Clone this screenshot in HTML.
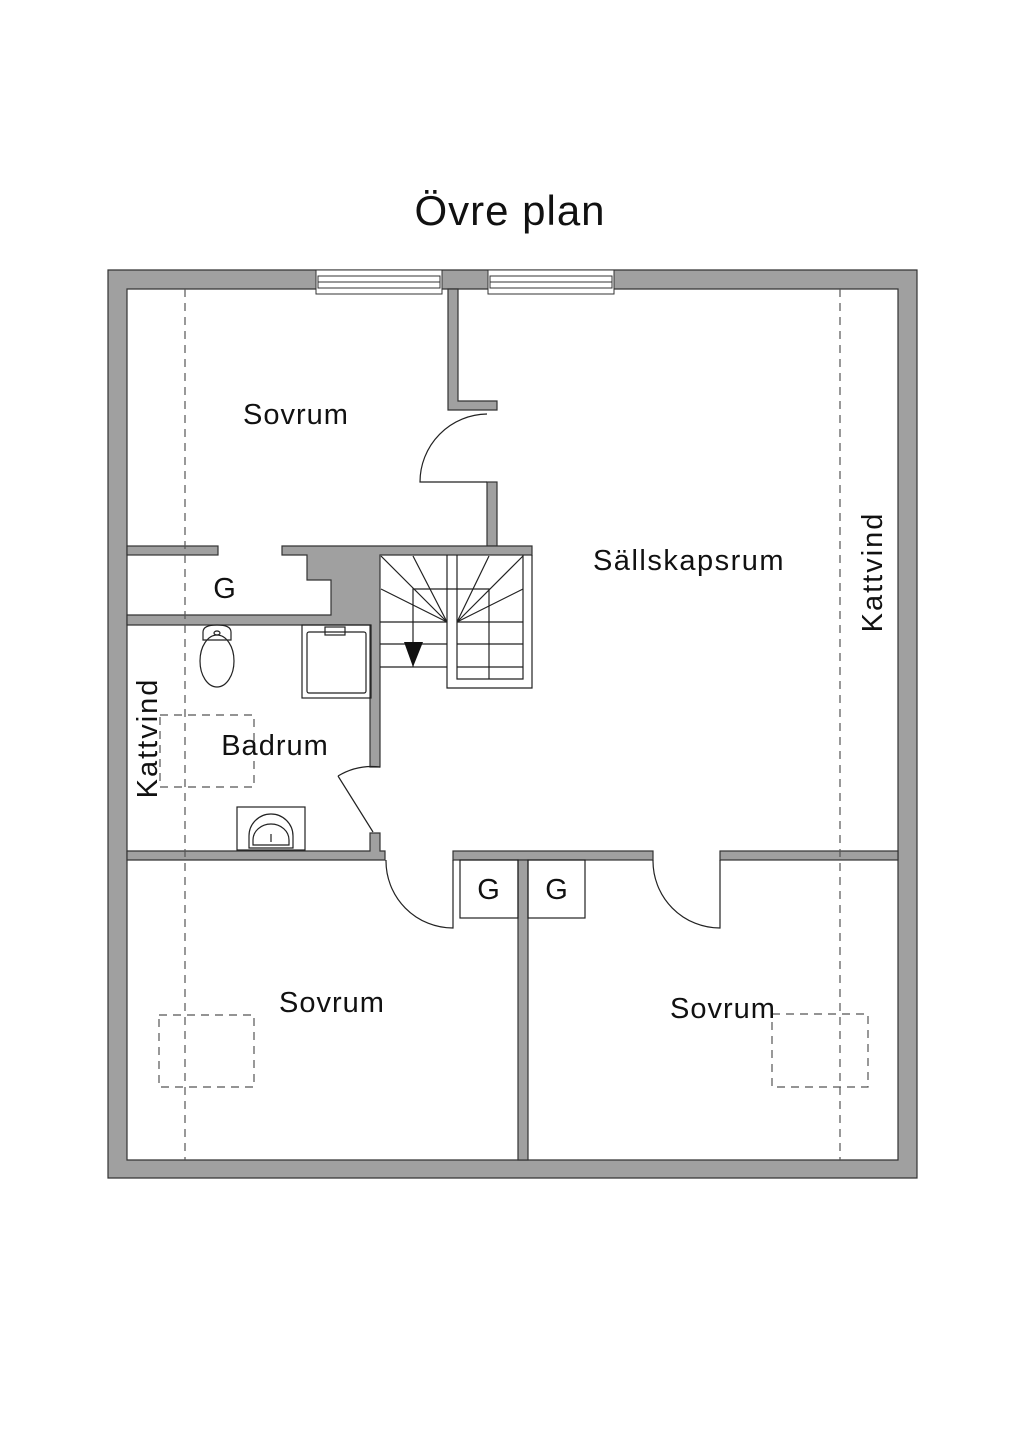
<!DOCTYPE html>
<html><head><meta charset="utf-8"><style>
html,body{margin:0;padding:0;background:#fff;}
svg{display:block;}
text{font-family:"Liberation Sans",sans-serif;fill:#111;}
</style></head><body>
<svg width="1024" height="1448" viewBox="0 0 1024 1448" xmlns="http://www.w3.org/2000/svg">
<rect width="1024" height="1448" fill="#fff"/>
<text x="510" y="225" font-size="42" letter-spacing="1" text-anchor="middle">Övre plan</text>
<g fill="#a0a0a0" stroke="#333" stroke-width="1.2">
<path fill-rule="evenodd" d="M108 270 H917 V1178 H108 Z M127 289 V1160 H898 V289 Z"/>
<path d="M448 289 V410 H497 V401 H458 V289 Z"/>
<rect x="487" y="482" width="10" height="64"/>
<rect x="127" y="546" width="91" height="9"/>
<path d="M282 546 H532 V555 H380 V767 H370 V625 H127 V615 H331 V580 H307 V555 H282 Z"/>
<path d="M370 833 H380 V851 H385 V860 H127 V851 H370 Z"/>
<rect x="453" y="851" width="200" height="9"/>
<rect x="720" y="851" width="178" height="9"/>
<rect x="518" y="860" width="10" height="300"/>
</g>
<g fill="#fff" stroke="#333" stroke-width="1">
<rect x="316" y="270" width="126" height="24"/>
<rect x="318" y="276" width="122" height="12"/>
<line x1="318" y1="282" x2="440" y2="282"/>
<rect x="488" y="270" width="126" height="24"/>
<rect x="490" y="276" width="122" height="12"/>
<line x1="490" y1="282" x2="612" y2="282"/>
</g>
<g fill="none" stroke="#222" stroke-width="1.2">
<path d="M487 414 A68 68 0 0 0 420 482 H487"/>
<path d="M338 776 L373 832 M338 776 A66 66 0 0 1 380 767"/>
<path d="M386 860 A67 67 0 0 0 453 928 V860"/>
<path d="M653 860 A67 67 0 0 0 720 928 V860"/>
<rect x="460" y="860" width="58" height="58"/>
<rect x="528" y="860" width="57" height="58"/>
<path d="M447 555 V688 H532 V555"/>
<path d="M457 555 V679 H523 V555"/>
<path d="M413 667 V589 H489 V679"/>
<path d="M380 622 H447 M380 644 H447 M380 667 H447 M457 622 H523 M457 644 H523 M457 667 H523"/>
<path d="M447 622 L381 556 M447 622 L413 556 M447 622 L381 589 M457 622 L489 556 M457 622 L523 556 M457 622 L523 589"/>
<rect x="302" y="625" width="69" height="73"/>
<rect x="307" y="632" width="59" height="61" rx="2"/>
<rect x="325" y="627" width="20" height="8"/>
<path d="M203 640 V632 Q203 625 217 625 Q231 625 231 632 V640 Z"/>
<ellipse cx="217" cy="661" rx="17" ry="26"/>
<ellipse cx="217" cy="633" rx="3" ry="2"/>
<rect x="237" y="807" width="68" height="43"/>
<path d="M249 848 V836 A22 22 0 0 1 293 836 V848 Z"/>
<path d="M253 840 A18 16 0 0 1 289 840 V845 H253 Z"/>
<line x1="271" y1="834" x2="271" y2="842"/>
</g>
<polygon points="404,642 423,642 413,667" fill="#111"/>
<g fill="none" stroke="#555" stroke-width="1.2" stroke-dasharray="8 6">
<line x1="185" y1="289" x2="185" y2="1160"/>
<line x1="840" y1="289" x2="840" y2="1160"/>
<rect x="160" y="715" width="94" height="72"/>
<rect x="159" y="1015" width="95" height="72"/>
<rect x="772" y="1014" width="96" height="73"/>
</g>
<g font-size="29" letter-spacing="1">
<text x="296" y="424" text-anchor="middle">Sovrum</text>
<text x="225" y="598" text-anchor="middle">G</text>
<text x="689" y="570" text-anchor="middle" letter-spacing="1.5">Sällskapsrum</text>
<text x="275" y="755" text-anchor="middle">Badrum</text>
<text x="332" y="1012" text-anchor="middle">Sovrum</text>
<text x="723" y="1018" text-anchor="middle">Sovrum</text>
<text x="489" y="899" text-anchor="middle">G</text>
<text x="557" y="899" text-anchor="middle">G</text>
<text transform="translate(882 572) rotate(-90)" text-anchor="middle" letter-spacing="2">Kattvind</text>
<text transform="translate(157 738) rotate(-90)" text-anchor="middle" letter-spacing="2">Kattvind</text>
</g>
</svg>
</body></html>
